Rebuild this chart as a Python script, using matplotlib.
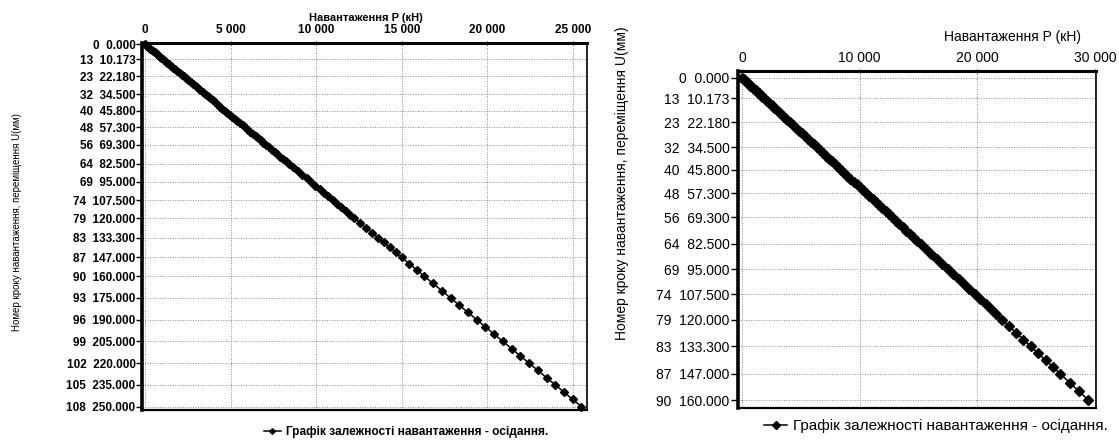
import matplotlib

matplotlib.use("Agg")
import matplotlib.pyplot as plt

plt.rcParams["font.family"] = ["Liberation Sans", "DejaVu Sans"]

# ---------------- data ----------------

# load step numbers and settlements shown as y tick labels
left_tick_steps = [0, 13, 23, 32, 40, 48, 56, 64, 69, 74, 79, 83, 87, 90, 93, 96, 99, 102, 105, 108]
left_tick_u = [0.000, 10.173, 22.180, 34.500, 45.800, 57.300, 69.300, 82.500, 95.000, 107.500,
               120.000, 133.300, 147.000, 160.000, 175.000, 190.000, 205.000, 220.000, 235.000, 250.000]
right_tick_steps = left_tick_steps[:14]
right_tick_u = left_tick_u[:14]

left_xticks = [0, 5000, 10000, 15000, 20000, 25000]
right_xticks = [0, 10000, 20000, 30000]

# settlement U (mm) per load step, steps 0..108
left_u = [0, 0.78, 1.57, 2.35, 3.13, 3.91, 4.70, 5.48, 6.26, 7.04, 7.83, 8.61, 9.39, 10.17,
          11.37, 12.58, 13.78, 14.98, 16.18, 17.38, 18.58, 19.78, 20.98, 22.18,
          23.55, 24.92, 26.29, 27.66, 29.02, 30.39, 31.76, 33.13, 34.50,
          35.91, 37.33, 38.74, 40.15, 41.56, 42.98, 44.39, 45.80,
          47.24, 48.68, 50.11, 51.55, 52.99, 54.43, 55.86, 57.30,
          58.8, 60.3, 61.8, 63.3, 64.8, 66.3, 67.8, 69.3,
          70.95, 72.6, 74.25, 75.9, 77.55, 79.2, 80.85, 82.5,
          85, 87.5, 90, 92.5, 95, 97.5, 100, 102.5, 105, 107.5,
          110, 112.5, 115, 117.5, 120, 123.33, 126.65, 129.98, 133.3,
          136.73, 140.15, 143.58, 147, 151.33, 155.67, 160,
          165, 170, 175, 180, 185, 190, 195, 200, 205,
          210, 215, 220, 225, 230, 235, 240, 245, 250]
# load P (kN) per load step
left_p = [0, 80, 160, 240, 320, 400, 480, 560, 640, 720, 800, 880, 960, 1040,
          1160, 1280, 1410, 1530, 1650, 1770, 1900, 2020, 2140, 2260,
          2400, 2540, 2680, 2820, 2960, 3100, 3240, 3380, 3520,
          3660, 3810, 3950, 4100, 4240, 4380, 4530, 4670,
          4820, 4970, 5110, 5260, 5400, 5550, 5700, 5840,
          6000, 6150, 6300, 6460, 6610, 6760, 6920, 7070,
          7240, 7410, 7570, 7740, 7910, 8080, 8250, 8420,
          8670, 8930, 9180, 9440, 9690, 9950, 10200, 10460, 10710, 10970,
          11220, 11480, 11730, 11990, 12240, 12580, 12920, 13260, 13600,
          13950, 14300, 14650, 14990, 15440, 15880, 16320,
          16830, 17340, 17850, 18360, 18870, 19380, 19890, 20400, 20910,
          21420, 21930, 22440, 22950, 23460, 23970, 24480, 24990, 25500]

# second test, steps 0..90
right_u = left_u[:91]
right_p = [0, 140, 290, 430, 580, 720, 860, 1010, 1150, 1300, 1440, 1580, 1730, 1870,
           2090, 2310, 2540, 2760, 2980, 3200, 3420, 3640, 3860, 4080,
           4330, 4590, 4840, 5090, 5340, 5590, 5840, 6100, 6350,
           6610, 6870, 7130, 7390, 7650, 7910, 8170, 8430,
           8690, 8960, 9220, 9490, 9750, 10020, 10280, 10540,
           10820, 11100, 11370, 11650, 11920, 12200, 12480, 12750,
           13050, 13360, 13660, 13970, 14270, 14570, 14880, 15180,
           15640, 16100, 16560, 17020, 17480, 17940, 18400, 18860, 19320, 19780,
           20240, 20700, 21160, 21620, 22080, 22690, 23300, 23920, 24530,
           25160, 25790, 26420, 27050, 27850, 28640, 29440]

X_LABEL = "Навантаження P (кН)"
Y_LABEL = "Номер кроку навантаження, переміщення U(мм)"
LEGEND = "Графік залежності навантаження - осідання."


def _thousands(v):
    return f"{v:,}".replace(",", " ")


def draw_panel(ax, p, u, tick_steps, tick_u, xticks, xlim, ylim, fs, weight, ms, tick_len):
    ax.plot(p, u, color="black", lw=1.1, marker="D", ms=ms, mec="black", mfc="black",
            label=LEGEND, clip_on=False, zorder=3)
    ax.set_xlim(*xlim)
    ax.set_ylim(*ylim)

    ax.set_yticks(tick_u)
    ax.set_yticklabels([f"{s}  {v:.3f}" for s, v in zip(tick_steps, tick_u)],
                       fontsize=fs, fontweight=weight)
    ax.xaxis.tick_top()
    ax.set_xticks(xticks)
    ax.set_xticklabels([_thousands(v) for v in xticks], fontsize=fs, fontweight=weight)
    ax.tick_params(axis="y", length=tick_len, width=1, pad=1, color="black")
    ax.tick_params(axis="x", length=3, width=0.8, pad=3, direction="inout")

    ax.grid(True, color="#8a8a8a", lw=0.7, ls=(0, (1, 1.6)))
    ax.set_axisbelow(True)

    ax.spines["left"].set_linewidth(2.6)
    ax.spines["top"].set_linewidth(2.2)
    ax.spines["right"].set_linewidth(1.2)
    ax.spines["bottom"].set_linewidth(1.6)


fig = plt.figure(figsize=(11.19, 4.41), dpi=100)

ax1 = fig.add_axes([0.1273, 0.0703, 0.3972, 0.8329])
draw_panel(ax1, left_p, left_u, left_tick_steps, left_tick_u, left_xticks,
           xlim=(-146, 25818), ylim=(252.3, -1.1), fs=8.5, weight="bold", ms=3.6, tick_len=4)

ax2 = fig.add_axes([0.6595, 0.0748, 0.3199, 0.7642])
draw_panel(ax2, right_p, right_u, right_tick_steps, right_tick_u, right_xticks,
           xlim=(-340, 30076), ylim=(163.9, -3.3), fs=10, weight="normal", ms=4.6, tick_len=5)

# axis titles placed where the scans have them
fig.text(0.327, 0.959, X_LABEL, ha="center", va="center", fontsize=8, fontweight="bold")
fig.text(0.9044, 0.916, X_LABEL, ha="center", va="center", fontsize=10)
fig.text(0.0152, 0.4966, Y_LABEL, ha="center", va="center", rotation=90, fontsize=7)
fig.text(0.5558, 0.585, Y_LABEL, ha="center", va="center", rotation=90, fontsize=10)

ax1.legend(loc="center", bbox_to_anchor=(0.3628, 0.0204), bbox_transform=fig.transFigure,
           frameon=False, handlelength=1.5, handletextpad=0.4, markerscale=0.8,
           prop={"size": 8.6, "weight": "bold"})
ax2.legend(loc="center", bbox_to_anchor=(0.8365, 0.034), bbox_transform=fig.transFigure,
           frameon=False, handlelength=1.5, handletextpad=0.4, markerscale=0.8,
           prop={"size": 11})

fig.savefig("out.png", dpi=100)
